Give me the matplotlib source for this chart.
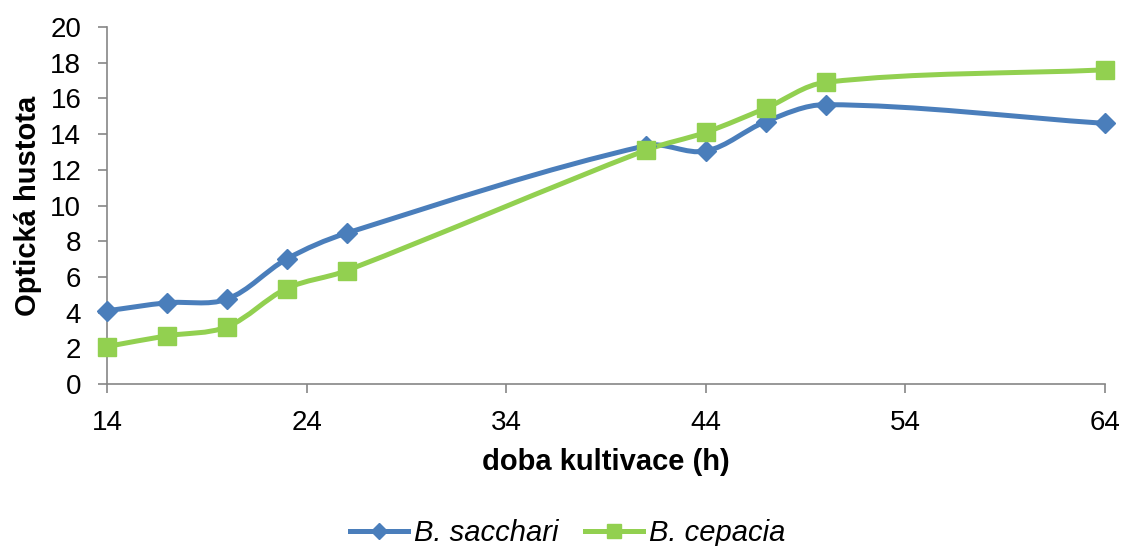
import numpy as np
import matplotlib
matplotlib.use("Agg")
import matplotlib.pyplot as plt
from matplotlib.path import Path
from matplotlib.patches import PathPatch
from matplotlib.lines import Line2D

plt.rcParams['font.family'] = ['Liberation Sans', 'DejaVu Sans']

hours = [14, 17, 20, 23, 26, 41, 44, 47, 50, 64]
b_sacchari = [4.1, 4.55, 4.75, 7.0, 8.45, 13.35, 13.05, 14.7, 15.65, 14.6]
b_cepacia = [2.1, 2.7, 3.2, 5.35, 6.35, 13.1, 14.1, 15.45, 16.9, 17.6]
series_names = ["B. sacchari", "B. cepacia"]
colors = ["#4A7EBB", "#92D050"]
markers = ["D", "s"]
marker_sizes = [10, 13]

x_ticks = [14, 24, 34, 44, 54, 64]
y_ticks = list(range(0, 21, 2))

W, H = 1124, 546
AX_L, AX_R, AX_T, AX_B = 107, 1105, 27, 384
X_RANGE, Y_RANGE = (14, 64), (0, 20)
sx = (AX_R - AX_L) / (X_RANGE[1] - X_RANGE[0])
sy = (AX_B - AX_T) / (Y_RANGE[1] - Y_RANGE[0])


def smooth_path(xs, ys):
    """Cubic Bezier through the points; tangents from neighbours, handle
    lengths proportional to the screen length of each segment."""
    pts = np.column_stack([xs, ys]).astype(float)
    scr = pts * np.array([sx, sy])
    n = len(pts)
    verts = [pts[0]]
    codes = [Path.MOVETO]

    def tangent(i):
        a = scr[max(i - 1, 0)]
        b = scr[min(i + 1, n - 1)]
        d = b - a
        return d / np.hypot(*d)

    for i in range(n - 1):
        seg = np.hypot(*(scr[i + 1] - scr[i]))
        t1 = tangent(i)
        t2 = tangent(i + 1)
        c1 = scr[i] + t1 * seg / 3.0
        c2 = scr[i + 1] - t2 * seg / 3.0
        verts += [c1 / [sx, sy], c2 / [sx, sy], pts[i + 1]]
        codes += [Path.CURVE4] * 3
    return Path(verts, codes)


fig = plt.figure(figsize=(W / 100, H / 100), dpi=100)
ax = fig.add_axes([AX_L / W, 1 - AX_B / H, (AX_R - AX_L) / W, (AX_B - AX_T) / H])

handles = []
for ys, name, c, m, ms in zip([b_sacchari, b_cepacia], series_names, colors, markers, marker_sizes):
    ax.add_patch(PathPatch(smooth_path(hours, ys), facecolor="none", edgecolor=c,
                           lw=3.6, capstyle="round", joinstyle="round", zorder=2))
    ax.plot(hours, ys, linestyle="none", marker=m, ms=ms, color=c,
            markeredgecolor=c, zorder=3, clip_on=False)
    handles.append(Line2D([], [], color=c, lw=3.6, marker=m, ms=ms * 0.8,
                          markeredgecolor=c, label=name))

ax.set_xlim(*X_RANGE)
ax.set_ylim(*Y_RANGE)
ax.set_xticks(x_ticks)
ax.set_yticks(y_ticks)

for s in ["top", "right"]:
    ax.spines[s].set_visible(False)
for s in ["left", "bottom"]:
    ax.spines[s].set_color("#868686")
    ax.spines[s].set_linewidth(1.2)
ax.tick_params(direction="out", length=6.5, width=1.2, color="#868686",
               labelsize=20, labelcolor="black")
ax.tick_params(axis="y", pad=12)
ax.tick_params(axis="x", pad=12)

ax.set_xlabel("doba kultivace (h)", fontsize=21, fontweight="bold", labelpad=9)
ax.set_ylabel("Optická hustota", fontsize=21, fontweight="bold", labelpad=6)

leg = fig.legend(handles=handles, loc="lower center", bbox_to_anchor=(0.505, -0.05),
                 ncol=2, frameon=False, handlelength=2.0, columnspacing=0.9,
                 handletextpad=0.2, prop={"size": 21, "style": "italic"})

fig.savefig("out.png", dpi=100)
